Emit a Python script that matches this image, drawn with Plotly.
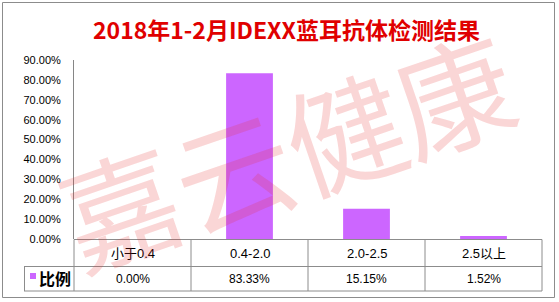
import plotly.graph_objects as go

title_text = "2018年1-2月IDEXX蓝耳抗体检测结果"
categories = ["小于0.4", "0.4-2.0", "2.0-2.5", "2.5以上"]
series_name = "比例"
values = [0.0, 0.8333, 0.1515, 0.0152]
value_labels = ["0.00%", "83.33%", "15.15%", "1.52%"]
watermark = "嘉云健康"

W, H = 559, 302
L, R, T, B = 74, 542, 60, 239  # plot area in pixels
n = len(categories)
cw = (R - L) / n


def px(x):
    return (x - L) / (R - L)


def py(y):
    return (B - y) / (B - T)


xs = list(range(n))
fig = go.Figure()
fig.add_trace(go.Bar(x=xs, y=values, marker_color="#CC66FF", marker_line_width=0,
                     name=series_name, showlegend=False))

shapes = []
line_col = "#8c8c8c"
# outer frame
shapes.append(dict(type="rect", xref="paper", yref="paper", x0=px(2.5), x1=px(554.5),
                   y0=py(297.5), y1=py(2.5), line=dict(color=line_col, width=1), layer="below"))
# table lines
row0, row1, row2 = 239.5, 266.5, 291.0
shapes.append(dict(type="line", xref="paper", yref="paper", x0=px(74), x1=px(542), y0=py(row0), y1=py(row0),
                   line=dict(color=line_col, width=1), layer="above"))
for yy in (row1, row2):
    shapes.append(dict(type="line", xref="paper", yref="paper", x0=px(24), x1=px(542), y0=py(yy), y1=py(yy),
                       line=dict(color=line_col, width=1), layer="above"))
shapes.append(dict(type="line", xref="paper", yref="paper", x0=px(24.5), x1=px(24.5), y0=py(row1), y1=py(row2),
                   line=dict(color=line_col, width=1), layer="above"))
for i in range(n + 1):
    xx = px(L + cw * i)
    shapes.append(dict(type="line", xref="paper", yref="paper", x0=xx, x1=xx, y0=py(row0), y1=py(row2),
                       line=dict(color=line_col, width=1), layer="above"))
# legend marker
shapes.append(dict(type="rect", xref="paper", yref="paper", x0=px(30), x1=px(36), y0=py(279), y1=py(273),
                   fillcolor="#CC66FF", line=dict(width=0), layer="above"))

ann = []
ann.append(dict(text=f"<b>{title_text}</b>", xref="paper", yref="paper", x=px(286), y=py(29),
                xanchor="center", yanchor="middle",
                showarrow=False, font=dict(family="Noto Sans CJK SC", size=23, color="#e00000")))
for i, c in enumerate(categories):
    ann.append(dict(text=c, xref="x", yref="paper", x=i, y=py(253), showarrow=False,
                    xanchor="center", yanchor="middle",
                    font=dict(family="Liberation Sans, Noto Sans CJK SC", size=13, color="#000")))
    ann.append(dict(text=value_labels[i], xref="x", yref="paper", x=i, y=py(278.5), showarrow=False,
                    xanchor="center", yanchor="middle",
                    font=dict(family="Liberation Sans, Noto Sans CJK SC", size=12, color="#000")))
ann.append(dict(text=f"<b>{series_name}</b>", xref="paper", yref="paper", x=px(37), y=py(277.5),
                xanchor="left", yanchor="middle", showarrow=False,
                font=dict(family="Noto Sans CJK SC", size=16, color="#000")))
# watermark, one glyph per annotation along a tilted baseline
wm_pos = [(119, 203), (232, 166), (343, 128), (452, 90)]
for ch, (wx, wy) in zip(watermark, wm_pos):
    ann.append(dict(text=ch, xref="paper", yref="paper", x=px(wx), y=py(wy), showarrow=False,
                    xanchor="center", yanchor="middle", textangle=-19,
                    font=dict(family="Noto Sans CJK SC", size=118, weight=400,
                              color="rgba(230,50,50,0.2)")))

fig.update_layout(
    width=W, height=H,
    margin=dict(l=L, r=W - R, t=T, b=H - B, pad=0),
    paper_bgcolor="white", plot_bgcolor="white",
    bargap=0.6,
    shapes=shapes, annotations=ann,
    xaxis=dict(range=[-0.5, n - 0.5], showticklabels=False, showgrid=False,
               zeroline=False, showline=False, ticks="", fixedrange=True),
    yaxis=dict(range=[0, 0.9], dtick=0.1, tickformat=".2%", showgrid=False, zeroline=False,
               showline=True, linecolor="#868686", linewidth=1, ticks="", ticklabelstandoff=10,
               tickfont=dict(family="Liberation Sans", size=11, color="#000")),
)

fig.write_html("out.html")
